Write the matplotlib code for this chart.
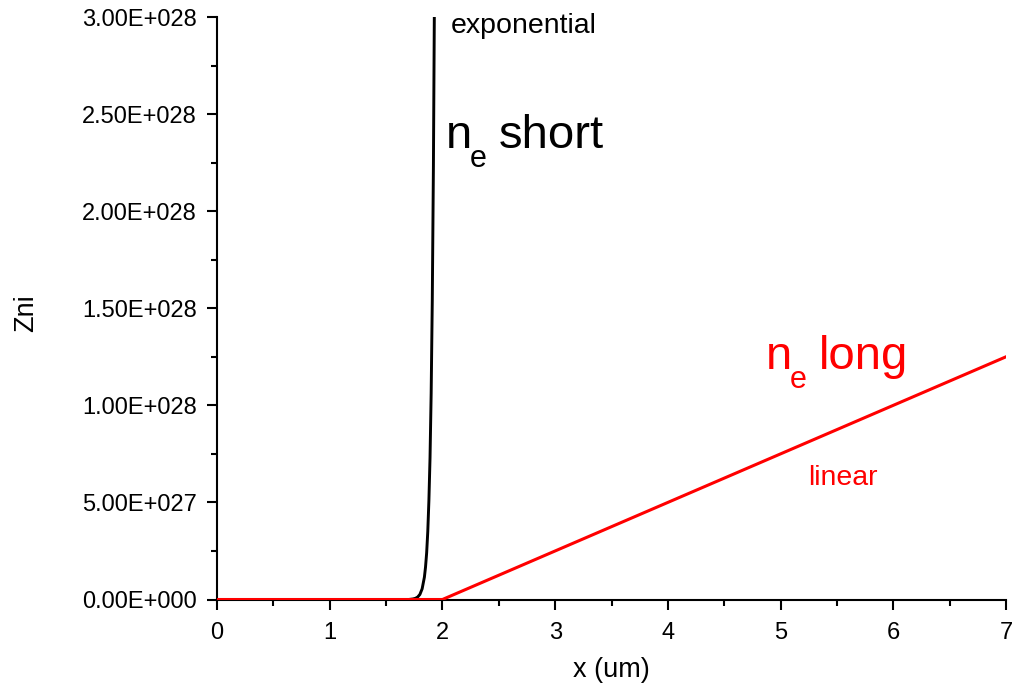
import matplotlib
matplotlib.use("Agg")
import matplotlib.pyplot as plt
from matplotlib.ticker import MultipleLocator, FuncFormatter

# Electron density profiles (values in units of 1e28)
x_short = [0.0, 1.70, 1.74, 1.76, 1.78, 1.80, 1.82, 1.84, 1.85, 1.86, 1.87,
           1.88, 1.89, 1.90, 1.91, 1.92, 1.928]
n_short = [0.0, 0.0, 0.003, 0.006, 0.0125, 0.026, 0.055, 0.115, 0.167, 0.24,
           0.35, 0.51, 0.73, 1.06, 1.54, 2.23, 3.0]

x_long = [0.0, 2.0, 7.0]
n_long = [0.0, 0.0, 1.25]

SCALE = 1e28

x_ticks = [0, 1, 2, 3, 4, 5, 6, 7]
y_ticks = [0.0, 0.5, 1.0, 1.5, 2.0, 2.5, 3.0]

plt.rcParams["font.family"] = ["Liberation Sans", "DejaVu Sans"]

fig = plt.figure(figsize=(10.13, 6.93), dpi=100)
ax = fig.add_axes([217 / 1013, 1 - 599.5 / 693, 789 / 1013, 582.5 / 693])

ax.plot(x_short, [v * SCALE for v in n_short], color="black", lw=2.1,
        solid_joinstyle="round", zorder=3)
ax.plot(x_long, [v * SCALE for v in n_long], color="#ff0000", lw=2.2,
        solid_joinstyle="round", zorder=4)

ax.set_xlim(x_ticks[0], x_ticks[-1])
ax.set_ylim(y_ticks[0] * SCALE, y_ticks[-1] * SCALE)

ax.set_xticks(x_ticks)
ax.set_yticks([v * SCALE for v in y_ticks])
ax.xaxis.set_minor_locator(MultipleLocator(0.5))
ax.yaxis.set_minor_locator(MultipleLocator(0.25 * SCALE))


def origin_sci(v, pos):
    mant, exp = f"{v:.2E}".split("E")
    return f"{mant}E{exp[0]}{int(exp[1:]):03d}"


ax.yaxis.set_major_formatter(FuncFormatter(origin_sci))

for side in ("top", "right"):
    ax.spines[side].set_visible(False)
for side in ("left", "bottom"):
    ax.spines[side].set_linewidth(1.5)

ax.tick_params(which="major", direction="out", length=7.5, width=1.5,
               labelsize=17, pad=7)
ax.tick_params(which="minor", direction="out", length=4.3, width=1.5)
ax.tick_params(axis="x", which="major", pad=9)

ax.set_xlabel("x (um)", fontsize=19.5)
ax.set_ylabel("Zni", fontsize=19.5)
ax.xaxis.set_label_coords(0.5, -0.098)
ax.yaxis.set_label_coords(-0.225, 0.492)


def subscript_label(x, y, sub, rest, color):
    ax.annotate("n", xy=(x, y), xycoords="data", fontsize=34, color=color,
                ha="left", va="baseline")
    ax.annotate(sub, xy=(x, y), xycoords="data", xytext=(24, -19),
                textcoords="offset pixels", fontsize=22, color=color,
                ha="left", va="baseline")
    ax.annotate(rest, xy=(x, y), xycoords="data", xytext=(53, 0),
                textcoords="offset pixels", fontsize=34, color=color,
                ha="left", va="baseline")


subscript_label(2.032, 2.325 * SCALE, "e", "short", "black")
subscript_label(4.871, 1.185 * SCALE, "e", "long", "#ff0000")

ax.text(2.076, 2.918 * SCALE, "exponential", fontsize=20.5, color="black",
        ha="left", va="baseline")
ax.text(5.244, 0.590 * SCALE, "linear", fontsize=20.5, color="#ff0000",
        ha="left", va="baseline")

fig.savefig("out.png", dpi=100)
